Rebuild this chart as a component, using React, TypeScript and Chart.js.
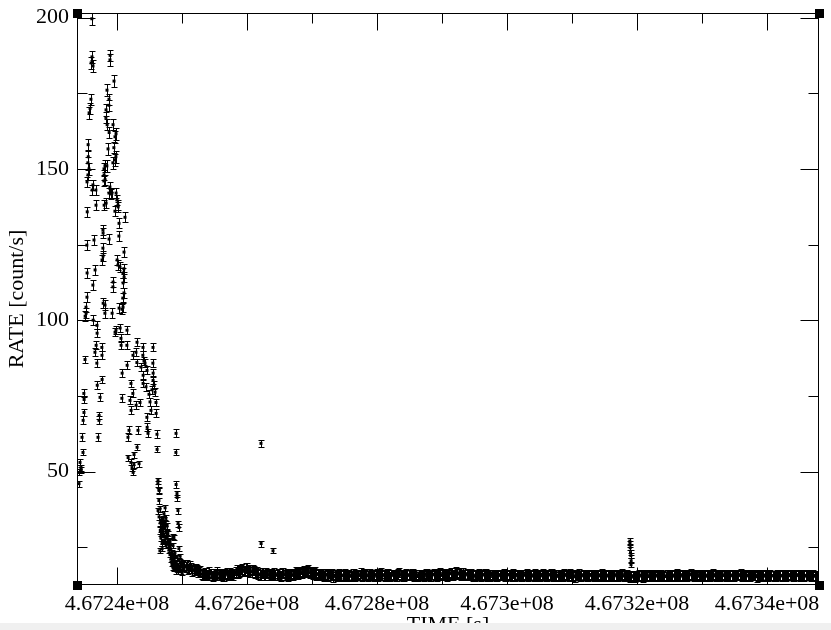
import React, { useEffect, useRef } from "react";
import Chart from "chart.js/auto";

// ---- axis ranges / ticks ----
const X_MIN = 467233846;
const X_MAX = 467348000;
const Y_MIN = 12.5;
const Y_MAX = 201.5;
const X_TICKS = [467240000, 467250000, 467260000, 467270000, 467280000, 467290000, 467300000, 467310000, 467320000, 467330000, 467340000];
const Y_TICKS = [25, 50, 75, 100, 125, 150, 175, 200];

// ---- flare / outlier points (time [s], rate [count/s], error) ----
const FLARE_TIME = [
  467234150, 467234170, 467234310, 467234460, 467234500, 467234620, 467234770, 467234790, 467234920, 467234940, 467234900, 467235080, 467235100, 467235230, 467235250, 467235380, 467235400, 467235360, 467235420, 467235390,
  467235540, 467235520, 467235560, 467235580, 467235690, 467235710, 467235850, 467235990, 467236020, 467236150, 467236170, 467236130, 467236310, 467236290, 467236330, 467236300, 467236460, 467236610, 467236630, 467236770,
  467236750, 467236790, 467236920, 467236940, 467236900, 467236960, 467237080, 467237230, 467237250, 467237390, 467237690, 467237710, 467237670, 467237700, 467237850, 467237830, 467237860, 467237840, 467237870, 467238000,
  467237980, 467238020, 467238010, 467238150, 467238170, 467238160, 467238140, 467238310, 467238290, 467238330, 467238460, 467238480, 467238440, 467238620, 467238770, 467238750, 467238790, 467238760, 467238780, 467238920,
  467238940, 467238910, 467239080, 467239230, 467239250, 467239390, 467239370, 467239400, 467239380, 467239540, 467239520, 467239690, 467239710, 467239680, 467239700, 467239850, 467239830, 467239860, 467239840, 467240000,
  467240020, 467240150, 467240170, 467240140, 467240310, 467240290, 467240320, 467240460, 467240480, 467240610, 467240630, 467240770, 467240790, 467240750, 467240920, 467240940, 467240900, 467240930, 467241080, 467241060,
  467241090, 467241070, 467241230, 467241540, 467241520, 467241560, 467241690, 467241710, 467241850, 467242000, 467242150, 467242170, 467242140, 467242310, 467242460, 467242440, 467242480, 467242620, 467242600, 467242920,
  467242940, 467243080, 467243060, 467243090, 467243230, 467243390, 467243540, 467243690, 467244000, 467243980, 467244020, 467244010, 467244150, 467244310, 467244460, 467244620, 467244600, 467244640, 467244770, 467244920,
  467245080, 467245230, 467245380, 467245540, 467245520, 467245560, 467245550, 467245690, 467245850, 467246000, 467246020, 467246150, 467246170, 467246310, 467246290, 467246460, 467246480, 467246450, 467246320, 467246620,
  467246600, 467249080, 467249060, 467249090, 467249230, 467249250, 467249380, 467249400, 467249540, 467249520, 467246470, 467246640, 467246660, 467246770, 467246790, 467246750, 467246920, 467246940, 467246900, 467246930,
  467246950, 467247080, 467247060, 467247090, 467247230, 467247250, 467247220, 467247390, 467247370, 467247400, 467247380, 467247540, 467247520, 467247560, 467247690, 467247710, 467247700, 467247850, 467247830, 467247860,
  467248000, 467248020, 467248150, 467248170, 467248160, 467248310, 467248290, 467248460, 467248480, 467248450, 467248620, 467248600, 467248630, 467248610, 467248770, 467248790, 467248760, 467248920, 467248940, 467248930,
  467249100, 467249110, 467249240, 467249260, 467249390, 467249370, 467249550, 467249560, 467249690, 467249710, 467249850, 467249830, 467250000, 467250020, 467250150, 467262150, 467262170, 467264000, 467318920, 467318900,
  467319000, 467318960, 467319060, 467319100, 467319080,
];
const FLARE_RATE = [
  46.0, 49.7, 53.0, 51.3, 50.5, 61.3, 56.3, 66.9, 69.5, 73.8, 75.8, 87.0, 101.3, 104.3, 102.3, 107.6, 115.6, 124.8, 135.8, 145.7,
  148.0, 152.0, 158.0, 154.0, 150.0, 168.5, 170.0, 173.0, 185.0, 187.0, 143.0, 199.6, 184.0, 111.6, 100.0, 144.7, 126.5, 89.4, 116.6, 138.0,
  143.0, 91.7, 98.3, 95.7, 85.8, 78.5, 61.3, 66.9, 68.5, 74.5, 88.4, 80.4, 91.0, 119.9, 121.2, 123.8, 128.8, 129.8, 105.6, 150.0,
  146.0, 138.0, 148.0, 151.0, 146.4, 105.0, 102.3, 169.5, 167.0, 138.7, 176.0, 164.6, 151.0, 156.6, 173.0, 171.0, 162.0, 142.0, 126.8, 186.0,
  187.5, 144.0, 141.7, 142.0, 102.3, 164.6, 152.0, 112.6, 111.0, 179.0, 157.0, 160.6, 153.0, 136.0, 96.0, 161.6, 154.0, 142.0, 96.7, 139.7,
  119.9, 138.0, 137.4, 118.2, 132.0, 127.8, 104.0, 117.5, 97.4, 94.0, 91.7, 103.6, 82.5, 74.2, 115.6, 112.3, 107.3, 104.3, 122.5, 117.0,
  114.2, 109.0, 134.0, 96.7, 91.7, 85.1, 61.3, 54.6, 63.6, 73.5, 79.1, 70.2, 53.0, 51.3, 88.4, 75.8, 49.7, 55.6, 52.3, 89.4,
  71.9, 92.7, 86.0, 58.0, 63.6, 52.6, 72.8, 84.5, 91.0, 88.4, 81.8, 79.1, 86.5, 85.8, 78.0, 83.4, 67.9, 64.6, 62.6, 75.5,
  73.0, 70.2, 77.0, 91.0, 85.8, 82.5, 80.1, 78.5, 76.2, 72.8, 69.2, 62.3, 57.3, 47.0, 46.0, 44.0, 43.7, 40.4, 37.1, 37.7,
  23.8, 62.6, 56.3, 45.7, 42.7, 41.4, 37.1, 32.8, 31.5, 24.5, 35.0, 33.0, 30.5, 34.0, 31.0, 28.0, 32.5, 30.0, 29.5, 26.2,
  24.5, 27.0, 31.5, 34.4, 36.0, 29.0, 33.1, 33.0, 27.5, 38.0, 31.5, 30.0, 34.5, 25.5, 28.0, 32.0, 29.8, 26.0, 29.5, 27.2,
  24.0, 27.0, 22.5, 25.0, 27.2, 21.0, 24.0, 19.5, 22.0, 23.2, 25.5, 28.5, 18.2, 20.5, 21.0, 17.8, 28.2, 23.0, 18.5, 19.5,
  20.0, 17.0, 21.5, 18.3, 19.0, 16.8, 20.5, 17.5, 18.2, 22.0, 17.0, 19.6, 18.5, 16.5, 19.5, 59.3, 26.2, 23.8, 26.2, 27.0,
  23.2, 24.8, 22.2, 20.5, 19.2,
];
const FLARE_ERR = [
  1.0, 1.0, 1.0, 1.0, 1.0, 1.3, 1.0, 1.3, 1.3, 1.3, 1.3, 1.3, 1.6, 1.6, 1.6, 1.6, 1.6, 1.6, 1.6, 1.6,
  1.6, 1.9, 1.9, 1.9, 1.9, 1.9, 1.9, 1.9, 1.9, 1.9, 1.6, 1.9, 1.9, 1.6, 1.6, 1.6, 1.6, 1.3, 1.6, 1.6,
  1.6, 1.3, 1.3, 1.3, 1.3, 1.3, 1.3, 1.3, 1.3, 1.3, 1.3, 1.3, 1.3, 1.6, 1.6, 1.6, 1.6, 1.6, 1.6, 1.9,
  1.6, 1.6, 1.6, 1.9, 1.6, 1.6, 1.6, 1.9, 1.9, 1.6, 1.9, 1.9, 1.9, 1.9, 1.9, 1.9, 1.9, 1.6, 1.6, 1.9,
  1.9, 1.6, 1.6, 1.6, 1.6, 1.9, 1.9, 1.6, 1.6, 1.9, 1.9, 1.9, 1.9, 1.6, 1.3, 1.9, 1.9, 1.6, 1.3, 1.6,
  1.6, 1.6, 1.6, 1.6, 1.6, 1.6, 1.6, 1.6, 1.3, 1.3, 1.3, 1.6, 1.3, 1.3, 1.6, 1.6, 1.6, 1.6, 1.6, 1.6,
  1.6, 1.6, 1.6, 1.3, 1.3, 1.3, 1.3, 1.0, 1.3, 1.3, 1.3, 1.3, 1.0, 1.0, 1.3, 1.3, 1.0, 1.0, 1.0, 1.3,
  1.3, 1.3, 1.3, 1.0, 1.3, 1.0, 1.3, 1.3, 1.3, 1.3, 1.3, 1.3, 1.3, 1.3, 1.3, 1.3, 1.3, 1.3, 1.3, 1.3,
  1.3, 1.3, 1.3, 1.3, 1.3, 1.3, 1.3, 1.3, 1.3, 1.3, 1.3, 1.3, 1.0, 1.0, 1.0, 1.0, 1.0, 1.0, 1.0, 1.0,
  0.8, 1.3, 1.0, 1.0, 1.0, 1.0, 1.0, 1.0, 1.0, 0.8, 1.0, 1.0, 1.0, 1.0, 1.0, 0.8, 1.0, 1.0, 0.8, 0.8,
  0.8, 0.8, 1.0, 1.0, 1.0, 0.8, 1.0, 1.0, 0.8, 1.0, 1.0, 1.0, 1.0, 0.8, 0.8, 1.0, 0.8, 0.8, 0.8, 0.8,
  0.8, 0.8, 0.8, 0.8, 0.8, 0.8, 0.8, 0.8, 0.8, 0.8, 0.8, 0.8, 0.8, 0.8, 0.8, 0.8, 0.8, 0.8, 0.8, 0.8,
  0.8, 0.8, 0.8, 0.8, 0.8, 0.8, 0.8, 0.8, 0.8, 0.8, 0.8, 0.8, 0.8, 0.8, 0.8, 1.2, 1.0, 0.8, 1.0, 1.0,
  0.9, 0.9, 0.8, 0.8, 0.8,
];

// ---- quiescent light curve: uniform bins (two interleaved sets, A on the bin grid, B half a bin later) ----
const BASE_START = 467250200;
const BASE_BIN = 350;
const BASE_ERR = 1.6;
const BASE_RATE_A = [
  19.2, 18.4, 17.6, 18.8, 17.1, 18.0, 17.4, 16.9, 16.2, 15.8, 16.6, 15.9, 16.3, 15.4, 16.1, 16.8, 15.7, 16.0, 15.5, 16.4,
  15.9, 16.2, 15.6, 16.9, 16.4, 17.2, 17.8, 17.0, 18.1, 17.5, 16.8, 17.3, 16.6, 16.2, 15.8, 16.5, 15.9, 16.3, 15.6, 16.0,
  16.4, 15.7, 16.1, 15.5, 16.6, 15.9, 15.4, 16.2, 15.8, 16.0, 16.5, 16.9, 16.3, 17.1, 16.6, 17.4, 16.8, 16.2, 16.7, 16.1,
  15.8, 16.2, 15.5, 15.9, 16.3, 15.6, 15.2, 15.8, 16.0, 15.4, 15.7, 16.1, 15.5, 15.9, 15.3, 16.2, 15.8, 15.6, 16.4, 15.7,
  16.0, 15.5, 16.3, 15.8, 15.4, 16.1, 15.7, 16.5, 15.9, 15.6, 16.2, 15.3, 15.8, 16.0, 15.5, 16.6, 15.9, 15.4, 16.1, 15.7,
  15.6, 16.2, 15.9, 15.3, 16.0, 15.7, 15.4, 16.3, 15.8, 15.5, 16.1, 15.6, 15.9, 16.4, 15.7, 16.0, 15.5, 16.2, 16.6, 16.0,
  16.8, 16.3, 15.9, 16.5, 15.8, 16.2, 15.6, 16.0, 15.4, 15.9, 16.1, 15.5, 15.8, 16.2, 15.6, 15.3, 15.9, 16.0, 15.5, 15.8,
  15.6, 16.1, 15.4, 15.9, 15.7, 16.3, 15.5, 15.8, 16.0, 15.3, 15.7, 16.2, 15.6, 15.9, 15.4, 16.0, 15.7, 15.5, 16.1, 15.8,
  15.5, 15.9, 16.2, 15.6, 15.3, 15.8, 16.0, 15.4, 15.9, 15.7, 16.3, 15.6, 15.2, 15.8, 16.1, 15.5, 15.7, 15.9, 15.4, 16.0,
  15.6, 15.3, 15.9, 15.7, 16.1, 15.5, 15.8, 15.4, 16.0, 15.6, 15.9, 15.3, 15.7, 16.2, 15.5, 15.8, 15.4, 15.1, 15.6, 15.3,
  15.5, 15.8, 15.2, 15.6, 15.9, 15.4, 15.7, 15.3, 15.8, 15.5, 16.0, 15.6, 15.3, 15.7, 15.9, 15.4, 15.6, 16.1, 15.5, 15.8,
  15.4, 15.9, 15.6, 16.2, 15.7, 15.5, 16.0, 15.3, 15.8, 15.6, 15.4, 15.9, 15.7, 16.1, 15.5, 15.8, 15.3, 15.6, 16.0, 15.7,
  15.5, 15.8, 15.4, 15.9, 15.6, 16.1, 15.7, 15.3, 15.8, 15.5, 15.9, 15.6, 15.2, 15.7, 16.0, 15.4, 15.8, 15.5, 15.9, 15.6,
  15.3, 15.7, 15.9, 15.5, 15.8, 15.4, 16.0, 15.6, 15.3, 15.7, 15.9, 15.5, 15.8, 15.4, 15.6, 16.0, 15.5, 15.7, 15.3, 15.6,
];
const BASE_RATE_B = [
  18.6, 19.0, 17.9, 18.2, 17.5, 17.8, 16.6, 17.2, 15.9, 16.5, 16.0, 16.7, 15.6, 16.2, 15.8, 16.3, 16.1, 15.4, 16.2, 15.8,
  16.5, 15.7, 16.3, 17.4, 16.8, 17.6, 17.3, 18.3, 17.2, 16.9, 17.6, 16.4, 16.9, 15.9, 16.4, 15.7, 16.6, 15.8, 16.2, 15.7,
  15.9, 16.3, 15.6, 16.4, 15.8, 16.2, 16.0, 15.6, 16.3, 16.7, 16.2, 17.0, 16.6, 16.9, 17.2, 16.5, 16.9, 16.4, 15.9, 16.3,
  16.0, 15.6, 16.1, 15.4, 15.9, 16.2, 15.7, 15.5, 16.3, 15.8, 15.5, 16.0, 15.8, 15.6, 16.1, 15.5, 16.0, 15.9, 15.5, 16.2,
  15.6, 16.2, 15.7, 16.0, 15.9, 15.5, 16.2, 15.8, 15.5, 16.1, 15.7, 16.0, 15.6, 15.4, 16.2, 15.7, 15.5, 16.0, 15.8, 15.9,
  16.1, 15.5, 15.8, 16.0, 15.6, 15.9, 16.1, 15.6, 15.4, 16.0, 15.8, 15.4, 16.2, 15.7, 16.1, 15.6, 15.9, 16.4, 15.9, 16.5,
  16.1, 16.6, 16.0, 15.7, 16.2, 15.9, 16.3, 15.5, 15.8, 16.0, 15.6, 15.9, 16.1, 15.5, 15.8, 16.0, 15.6, 15.4, 16.0, 15.6,
  15.9, 15.5, 16.0, 15.8, 15.4, 15.9, 16.0, 15.6, 15.5, 15.9, 16.0, 15.5, 15.8, 15.6, 16.1, 15.5, 15.9, 16.0, 15.6, 15.5,
  15.8, 16.1, 15.5, 15.9, 15.7, 15.5, 15.6, 16.1, 15.6, 15.5, 15.9, 15.4, 15.9, 15.6, 15.5, 15.9, 16.0, 15.5, 15.8, 15.6,
  15.4, 15.8, 15.5, 16.0, 15.4, 15.9, 15.6, 15.8, 15.5, 15.8, 15.5, 15.8, 15.9, 15.5, 16.0, 15.6, 15.2, 15.5, 15.2, 15.6,
  15.7, 15.4, 15.5, 15.8, 15.3, 15.6, 15.5, 15.7, 15.4, 15.8, 15.6, 15.3, 15.8, 15.5, 15.6, 15.8, 15.5, 15.7, 15.9, 15.4,
  15.7, 15.5, 16.0, 15.8, 15.4, 15.8, 15.6, 15.6, 15.5, 15.8, 15.6, 15.5, 15.9, 15.6, 15.7, 15.5, 15.8, 15.7, 15.5, 15.8,
  15.7, 15.5, 15.7, 15.6, 15.8, 15.5, 15.9, 15.6, 15.5, 15.7, 15.6, 15.8, 15.5, 15.4, 15.8, 15.7, 15.5, 15.8, 15.6, 15.5,
  15.5, 15.8, 15.6, 15.7, 15.5, 15.7, 15.6, 15.8, 15.5, 15.6, 15.8, 15.6, 15.5, 15.7, 15.8, 15.6, 15.5, 15.6, 15.5, 15.4,
];

const FONT = "'Liberation Serif', 'Times New Roman', serif";

const errorBarPlugin = {
  id: "errorBars",
  beforeDatasetsDraw(chart: any) {
    const { ctx, chartArea: a, scales } = chart;
    const xs = scales.x;
    const ys = scales.y;
    ctx.save();
    ctx.beginPath();
    ctx.rect(a.left, a.top, a.right - a.left, a.bottom - a.top);
    ctx.clip();
    ctx.strokeStyle = "#000";
    ctx.lineWidth = 1;
    ctx.beginPath();
    chart.data.datasets.forEach((ds: any) => {
      ds.data.forEach((p: any) => {
        const x = Math.round(xs.getPixelForValue(p.x)) + 0.5;
        const y1 = Math.round(ys.getPixelForValue(p.y + p.e)) + 0.5;
        const y2 = Math.round(ys.getPixelForValue(p.y - p.e)) + 0.5;
        ctx.moveTo(x, y1);
        ctx.lineTo(x, y2);
        ctx.moveTo(x - 3, y1);
        ctx.lineTo(x + 3, y1);
        ctx.moveTo(x - 3, y2);
        ctx.lineTo(x + 3, y2);
      });
    });
    ctx.stroke();
    ctx.restore();
  },
};

const framePlugin = {
  id: "frame",
  afterDraw(chart: any) {
    const { ctx, chartArea: a, scales } = chart;
    const L = Math.round(a.left) + 0.5;
    const R = Math.round(a.right) - 0.5;
    const T = Math.round(a.top) + 0.5;
    const B = Math.round(a.bottom) - 0.5;
    ctx.save();
    ctx.strokeStyle = "#000";
    ctx.lineWidth = 1;
    ctx.beginPath();
    ctx.rect(L, T, R - L, B - T);
    scales.x.ticks.forEach((t: any) => {
      const px = Math.round(scales.x.getPixelForValue(t.value)) + 0.5;
      if (px <= L + 1 || px >= R - 1) return;
      const len = t.value % 20000 === 0 ? 17 : 10;
      ctx.moveTo(px, B);
      ctx.lineTo(px, B - len);
      ctx.moveTo(px, T);
      ctx.lineTo(px, T + len);
    });
    scales.y.ticks.forEach((t: any) => {
      const py = Math.round(scales.y.getPixelForValue(t.value)) + 0.5;
      if (py <= T + 1 || py >= B - 1) return;
      const len = t.value % 50 === 0 ? 18 : 10;
      ctx.moveTo(L, py);
      ctx.lineTo(L + len, py);
      ctx.moveTo(R, py);
      ctx.lineTo(R - len, py);
    });
    ctx.stroke();
    ctx.fillStyle = "#000";
    const s = 9;
    [
      [a.left, a.top],
      [a.right, a.top],
      [a.left, a.bottom],
      [a.right, a.bottom],
    ].forEach(([cx, cy]) => {
      ctx.fillRect(Math.round(cx - s / 2), Math.round(cy - s / 2), s, s);
    });
    ctx.restore();
  },
};

function fmtX(v: number) {
  return `${parseFloat((v / 1e8).toFixed(4))}e+08`;
}

export default function App() {
  const ref = useRef<HTMLCanvasElement | null>(null);

  useEffect(() => {
    if (!ref.current) return;
    const flare = FLARE_TIME.map((t, i) => ({ x: t, y: FLARE_RATE[i], e: FLARE_ERR[i] }));
    const baseA = BASE_RATE_A.map((r, i) => ({ x: BASE_START + i * BASE_BIN, y: r, e: BASE_ERR }));
    const baseB = BASE_RATE_B.map((r, i) => ({ x: BASE_START + BASE_BIN / 2 + i * BASE_BIN, y: r, e: BASE_ERR }));
    const tickFont = { family: FONT, size: 22 };
    const pt = { pointStyle: "rect", pointRadius: 2.1, backgroundColor: "#000", borderWidth: 0, showLine: false };
    const chart = new Chart(ref.current, {
      type: "scatter",
      data: {
        datasets: [
          { data: baseA, ...pt },
          { data: baseB, ...pt },
          { data: flare, ...pt },
        ],
      },
      options: {
        animation: false,
        responsive: false,
        devicePixelRatio: 1,
        layout: { padding: { left: 0, top: 13, right: 12, bottom: 0 } },
        plugins: { legend: { display: false }, tooltip: { enabled: false } },
        scales: {
          x: {
            type: "linear",
            min: X_MIN,
            max: X_MAX,
            grid: { display: false, drawTicks: false },
            border: { display: false },
            afterBuildTicks: (s: any) => {
              s.ticks = X_TICKS.map((v) => ({ value: v }));
            },
            afterFit: (s: any) => {
              s.height = 45;
              s.paddingLeft = 0;
              s.paddingRight = 0;
            },
            ticks: {
              autoSkip: false,
              maxRotation: 0,
              minRotation: 0,
              padding: 6,
              color: "#000",
              font: tickFont,
              callback: (v: any) => (Number(v) % 20000 === 0 ? fmtX(Number(v)) : ""),
            },
            title: {
              display: true,
              text: "TIME [s]",
              color: "#000",
              font: tickFont,
              padding: { top: 0, bottom: -8 },
            },
          },
          y: {
            type: "linear",
            min: Y_MIN,
            max: Y_MAX,
            grid: { display: false, drawTicks: false },
            border: { display: false },
            afterBuildTicks: (s: any) => {
              s.ticks = Y_TICKS.map((v) => ({ value: v }));
            },
            afterFit: (s: any) => {
              s.width = 77;
              s.paddingTop = 0;
              s.paddingBottom = 0;
            },
            ticks: {
              autoSkip: false,
              padding: 8,
              color: "#000",
              font: tickFont,
              callback: (v: any) => (Number(v) % 50 === 0 ? String(v) : ""),
            },
            title: {
              display: true,
              text: "RATE [count/s]",
              color: "#000",
              font: tickFont,
              padding: { top: 4, bottom: 0 },
            },
          },
        },
      },
      plugins: [errorBarPlugin, framePlugin],
    } as any);
    return () => chart.destroy();
  }, []);

  return (
    <div style={{ position: "fixed", left: 0, top: 0, width: 831, height: 630, background: "#fff", overflow: "hidden" }}>
      <canvas ref={ref} width={831} height={630} style={{ display: "block" }} />
      <div style={{ position: "absolute", left: 0, right: 0, bottom: 0, height: 7, background: "#f0f0f0" }} />
    </div>
  );
}
